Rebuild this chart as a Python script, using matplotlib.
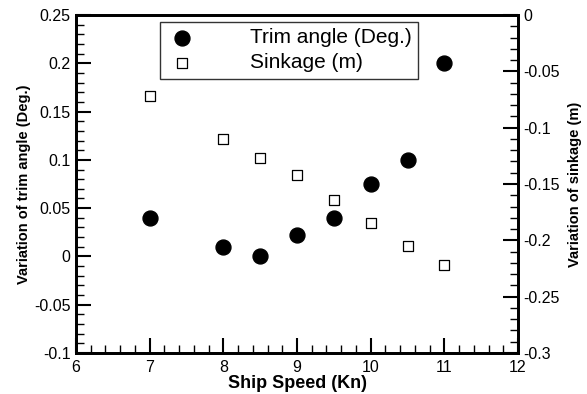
import matplotlib
matplotlib.use("Agg")
import matplotlib.pyplot as plt
from matplotlib.ticker import MultipleLocator

speed = [7, 8, 8.5, 9, 9.5, 10, 10.5, 11]
trim = [0.040, 0.010, 0.000, 0.022, 0.040, 0.075, 0.100, 0.200]
sinkage = [-0.072, -0.110, -0.127, -0.142, -0.164, -0.185, -0.205, -0.222]

plt.rcParams["font.family"] = ["Liberation Sans", "DejaVu Sans"]

fig = plt.figure(figsize=(5.87, 3.94), dpi=100)
ax = fig.add_axes([0.1295, 0.104, 0.753, 0.858])
ax2 = ax.twinx()

h1 = ax.scatter(speed, trim, s=115, c="black", marker="o", zorder=3,
                label="Trim angle (Deg.)")
h2 = ax2.scatter(speed, sinkage, s=62, facecolors="white", edgecolors="black",
                 linewidths=0.9, marker="s", zorder=3, label="Sinkage (m)")

ax.set_xlim(6, 12)
ax.set_ylim(-0.1, 0.25)
ax2.set_ylim(-0.3, 0)

ax.xaxis.set_major_locator(MultipleLocator(1))
ax.xaxis.set_minor_locator(MultipleLocator(0.2))
ax.yaxis.set_major_locator(MultipleLocator(0.05))
ax.yaxis.set_minor_locator(MultipleLocator(0.01))
ax2.yaxis.set_major_locator(MultipleLocator(0.05))
ax2.yaxis.set_minor_locator(MultipleLocator(0.01))

fmt = lambda v, p: f"{v:g}" if abs(v) > 1e-9 else "0"
ax.xaxis.set_major_formatter(fmt)
ax.yaxis.set_major_formatter(fmt)
ax2.yaxis.set_major_formatter(fmt)

for a in (ax, ax2):
    a.tick_params(which="major", direction="in", length=11, width=1.5,
                  labelsize=11.5, pad=4)
    a.tick_params(which="minor", direction="in", length=6, width=1)
    for sp in a.spines.values():
        sp.set_linewidth(2)
ax.tick_params(top=False, which="both")
ax.tick_params(axis="x", which="major", pad=5)

ax.set_xlabel("Ship Speed (Kn)", fontsize=13, fontweight="bold", labelpad=0)
ax.set_ylabel("Variation of trim angle (Deg.)", fontsize=10.5,
              fontweight="bold", labelpad=2)
ax2.set_ylabel("Variation of sinkage (m)", fontsize=10.5, fontweight="bold",
               labelpad=6)

leg = ax.legend(handles=[h1, h2], loc="upper left",
                bbox_to_anchor=(160 / 587, 1 - 22 / 394),
                bbox_transform=fig.transFigure, fontsize=15, frameon=True,
                fancybox=False, edgecolor="black", handletextpad=2.5,
                borderpad=0.3, labelspacing=0.3, borderaxespad=0,
                handlelength=1.5)
leg.get_frame().set_linewidth(1)

fig.savefig("out.png", dpi=100)
